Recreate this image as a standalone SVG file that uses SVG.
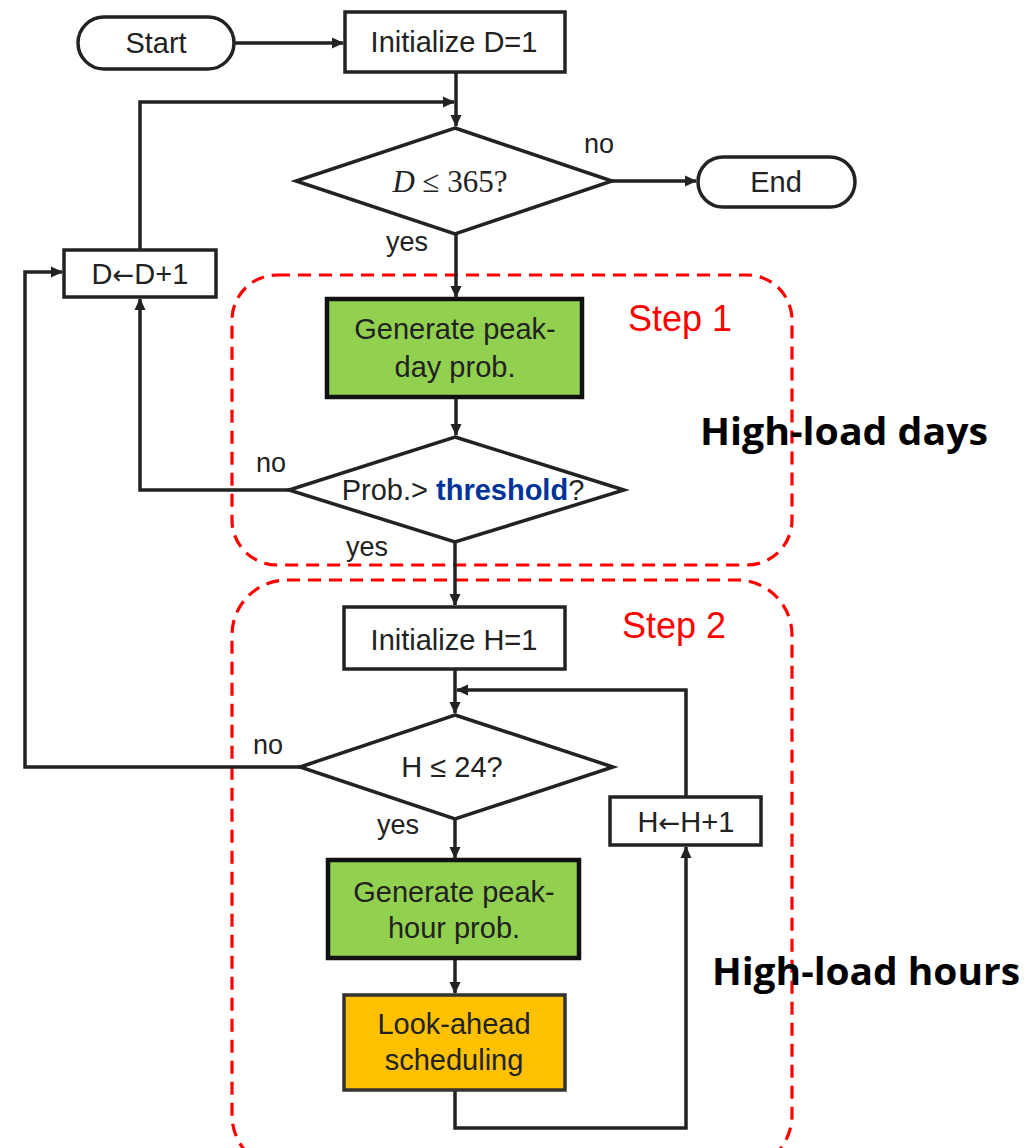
<svg xmlns="http://www.w3.org/2000/svg" width="1026" height="1148" viewBox="0 0 1026 1148">
<style>
.n{fill:#fff;stroke:#222;stroke-width:3.5}
.g{fill:#92D050;stroke:#111;stroke-width:4.5}
.o{fill:#FFC000;stroke:#333;stroke-width:3.5}
.t{font-family:"Liberation Sans",Arial,sans-serif;font-size:29px;fill:#222;text-anchor:middle}
.l{font-family:"Liberation Sans",Arial,sans-serif;font-size:27px;fill:#222}
.c{fill:none;stroke:#222;stroke-width:3.5}
.d{fill:none;stroke:#f00;stroke-width:3.2;stroke-dasharray:13 8}
.s{font-family:"Liberation Sans",Arial,sans-serif;font-size:36px;fill:#f00}
.h{font-family:"Open Sans","Liberation Sans",sans-serif;font-weight:bold;font-size:38px;fill:#000}
.ar{font-family:"DejaVu Sans",sans-serif;font-size:26px}
</style>
<defs>
<marker id="a" markerWidth="12" markerHeight="12" refX="11" refY="6" orient="auto" markerUnits="userSpaceOnUse" viewBox="0 0 12 12">
<path d="M0,0.5 L12,6 L0,11.5 z" fill="#222"/>
</marker>
</defs>
<g id="regions">
<rect class="d" x="232" y="275" width="560" height="290" rx="45"/>
<rect class="d" x="232" y="580" width="560" height="590" rx="55"/>
<text class="s" x="628" y="331">Step 1</text>
<text class="s" x="622" y="638">Step 2</text>
<text class="h" x="700" y="445" textLength="288" lengthAdjust="spacingAndGlyphs">High-load days</text>
<text class="h" x="712" y="985" textLength="308" lengthAdjust="spacingAndGlyphs">High-load hours</text>
</g>
<g id="connectors">
<path class="c" d="M234,43 H343" marker-end="url(#a)"/>
<path class="c" d="M456,72 V126" marker-end="url(#a)"/>
<path class="c" d="M140,250 V102 H454" marker-end="url(#a)"/>
<path class="c" d="M612,181 H696" marker-end="url(#a)"/>
<path class="c" d="M456,234 V297" marker-end="url(#a)"/>
<path class="c" d="M456,397 V435" marker-end="url(#a)"/>
<path class="c" d="M289,490 H140 V299" marker-end="url(#a)"/>
<path class="c" d="M455,542 V605" marker-end="url(#a)"/>
<path class="c" d="M455,669 V713" marker-end="url(#a)"/>
<path class="c" d="M686,797 V690 H457" marker-end="url(#a)"/>
<path class="c" d="M300,767 H25 V272 H62" marker-end="url(#a)"/>
<path class="c" d="M455,819 V858" marker-end="url(#a)"/>
<path class="c" d="M455,958 V993" marker-end="url(#a)"/>
<path class="c" d="M455,1090 V1128 H686 V847" marker-end="url(#a)"/>
<text class="l" x="584" y="153">no</text>
<text class="l" x="386" y="251">yes</text>
<text class="l" x="256" y="472">no</text>
<text class="l" x="346" y="556">yes</text>
<text class="l" x="253" y="754">no</text>
<text class="l" x="377" y="834">yes</text>
</g>
<g id="start">
<rect class="n" x="78" y="17" width="156" height="52" rx="26"/>
<text class="t" x="156" y="53">Start</text>
</g>
<g id="initD">
<rect class="n" x="345" y="12" width="220" height="60"/>
<text class="t" x="454" y="52">Initialize D=1</text>
</g>
<g id="decD">
<polygon class="n" points="455,128 612,181 455,234 296,181"/>
<text x="450" y="192" style="font-family:'Liberation Serif','Times New Roman',serif;font-size:31px;fill:#222;text-anchor:middle"><tspan font-style="italic">D</tspan> ≤ 365?</text>
</g>
<g id="end">
<rect class="n" x="698" y="157" width="157" height="50" rx="25"/>
<text class="t" x="776" y="192">End</text>
</g>
<g id="incD">
<rect class="n" x="64" y="250" width="152" height="47"/>
<text class="t" x="140" y="284">D<tspan class="ar">←</tspan>D+1</text>
</g>
<g id="genDay">
<rect class="g" x="327" y="299" width="255" height="98"/>
<text class="t" x="455" y="339">Generate peak-</text>
<text class="t" x="455" y="377">day prob.</text>
</g>
<g id="decThr">
<polygon class="n" points="455,437 624,490 455,542 289,490"/>
<text class="t" x="463" y="500">Prob.&gt; <tspan fill="#003399" font-weight="bold">threshold</tspan>?</text>
</g>
<g id="initH">
<rect class="n" x="344" y="607" width="221" height="62"/>
<text class="t" x="454" y="650">Initialize H=1</text>
</g>
<g id="decH">
<polygon class="n" points="455,715 613,767 455,819 300,767"/>
<text class="t" x="452" y="777">H ≤ 24?</text>
</g>
<g id="incH">
<rect class="n" x="610" y="797" width="151" height="48"/>
<text class="t" x="686" y="832">H<tspan class="ar">←</tspan>H+1</text>
</g>
<g id="genHour">
<rect class="g" x="328" y="860" width="251" height="98"/>
<text class="t" x="454" y="902">Generate peak-</text>
<text class="t" x="454" y="938">hour prob.</text>
</g>
<g id="look">
<rect class="o" x="344" y="995" width="221" height="95"/>
<text class="t" x="454" y="1034">Look-ahead</text>
<text class="t" x="454" y="1070">scheduling</text>
</g>
</svg>
